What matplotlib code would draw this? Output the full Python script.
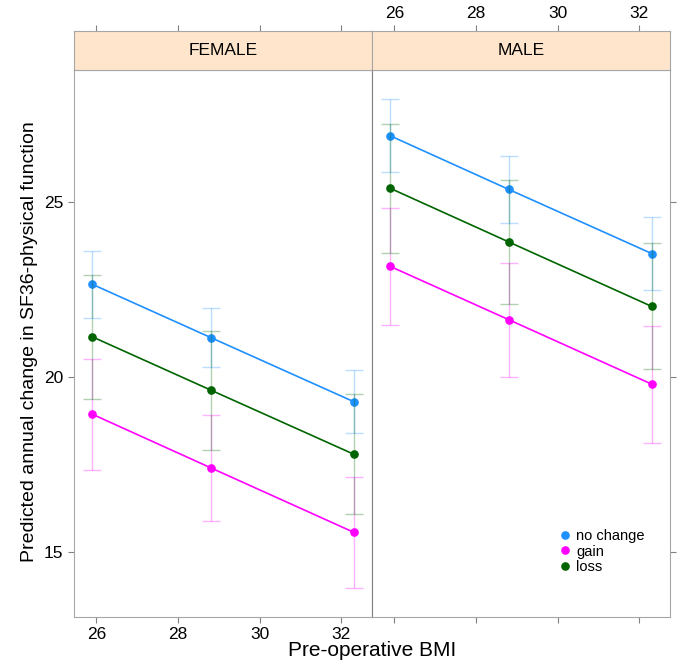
# ======================================================
# Predicted annual change in SF36-physical function
# by pre-operative BMI, split by sex (lattice-style panels)
# ======================================================

import numpy as np
import matplotlib
matplotlib.use("Agg")
import matplotlib.pyplot as plt

plt.rcParams["font.family"] = ["Liberation Sans", "DejaVu Sans"]

# ======================================================
# 1. Data
# ======================================================
bmi = [25.9, 28.8, 32.3]
panels = ["FEMALE", "MALE"]
groups = ["no change", "gain", "loss"]

female_no_change = [22.65, 21.13, 19.30]
female_gain = [18.94, 17.41, 15.57]
female_loss = [21.15, 19.63, 17.80]

female_no_change_err = [0.96, 0.84, 0.89]
female_gain_err = [1.58, 1.52, 1.58]
female_loss_err = [1.78, 1.70, 1.72]

male_no_change = [26.89, 25.36, 23.53]
male_gain = [23.16, 21.64, 19.80]
male_loss = [25.39, 23.86, 22.02]

male_no_change_err = [1.04, 0.96, 1.03]
male_gain_err = [1.66, 1.63, 1.67]
male_loss_err = [1.84, 1.77, 1.80]

x_ticks = [26, 28, 30, 32]
y_ticks = [15, 20, 25]

colors = {"no change": "#1E90FF", "gain": "#FF00FF", "loss": "#006400"}

values = {
    "FEMALE": {
        "no change": (female_no_change, female_no_change_err),
        "gain": (female_gain, female_gain_err),
        "loss": (female_loss, female_loss_err),
    },
    "MALE": {
        "no change": (male_no_change, male_no_change_err),
        "gain": (male_gain, male_gain_err),
        "loss": (male_loss, male_loss_err),
    },
}

# ======================================================
# 2. Layout
# ======================================================
fig = plt.figure(figsize=(6.78, 6.64), dpi=100)

W, H = 678, 664
left_px, mid_px, right_px = 74, 372, 670
panel_top_px, panel_bot_px, strip_top_px = 70, 617, 31

def frac_box(x0, x1, ytop, ybot):
    return [x0 / W, 1 - ybot / H, (x1 - x0) / W, (ybot - ytop) / H]

xlim = (25.45, 32.75)
ylim = (13.15, 28.77)
edge = "#a6a6a6"
tick_kw = dict(colors="#808080", labelcolor="black", direction="out", length=4, width=0.8, labelsize=12.5)

for i, name in enumerate(panels):
    x0 = left_px if i == 0 else mid_px
    x1 = mid_px if i == 0 else right_px

    ax = fig.add_axes(frac_box(x0, x1, panel_top_px, panel_bot_px))
    strip = fig.add_axes(frac_box(x0, x1, strip_top_px, panel_top_px))

    for grp in groups:
        y, err = values[name][grp]
        c = colors[grp]
        ax.errorbar(bmi, y, yerr=err, fmt="none", ecolor=c, alpha=0.3,
                    elinewidth=1.0, capsize=6.5, capthick=1.0)
        ax.plot(bmi, y, color=c, lw=1.2, marker="o", markersize=5.2, label=grp)

    ax.set_xlim(xlim)
    ax.set_ylim(ylim)
    ax.set_xticks(x_ticks)
    ax.set_yticks(y_ticks)
    for sp in ax.spines.values():
        sp.set_color(edge)
    ax.tick_params(**tick_kw)

    if i == 0:
        ax.tick_params(axis="y", left=True, labelleft=True, right=False)
        ax.tick_params(axis="x", bottom=True, labelbottom=True)
        ax.spines["right"].set_color("#7f7f7f")
    else:
        ax.tick_params(axis="y", left=False, labelleft=False, right=True, labelright=False)
        ax.tick_params(axis="x", bottom=True, labelbottom=False)
        ax.spines["left"].set_color("#7f7f7f")
        leg = ax.legend(loc="lower right", bbox_to_anchor=(0.95, 0.06), frameon=False,
                        fontsize=10.5, handlelength=0.6, handletextpad=0.5,
                        labelspacing=0.1, borderpad=0.2)
        for h in leg.legend_handles:
            h.set_linestyle("none")

    # strip header
    strip.set_facecolor("#FFE5CC")
    strip.set_xlim(xlim)
    strip.set_ylim(0, 1)
    strip.set_xticks(x_ticks)
    strip.set_yticks([])
    for sp in strip.spines.values():
        sp.set_color(edge)
    strip.tick_params(**tick_kw)
    strip.tick_params(axis="x", bottom=False, labelbottom=False, top=True,
                      labeltop=(i == 1))
    strip.text(0.5, 0.5, name, transform=strip.transAxes, ha="center",
               va="center", fontsize=12.5)

# ======================================================
# 3. Axis titles
# ======================================================
fig.text(mid_px / W, 1 - 651 / H, "Pre-operative BMI", ha="center", va="center", fontsize=15)
fig.text(30 / W, 1 - 342 / H, "Predicted annual change in SF36-physical function",
         ha="center", va="center", rotation=90, fontsize=14)

fig.savefig("out.png", dpi=100)
